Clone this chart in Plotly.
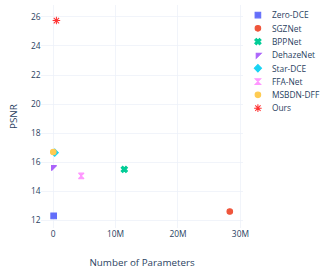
import plotly.graph_objects as go

names = ["Zero-DCE", "SGZNet", "BPPNet", "DehazeNet", "Star-DCE", "FFA-Net", "MSBDN-DFF", "Ours"]
params = [79000, 28300000, 11400000, 8000, 250000, 4500000, 20000, 520000]
psnr = [12.3, 12.6, 15.5, 15.65, 16.65, 15.05, 16.7, 25.75]
symbols = ["square", "circle", "x", "triangle-nw", "diamond", "hourglass", "circle", "asterisk-open"]
colors = ["#636efa", "#EF553B", "#00cc96", "#ab63fa", "#19d3f3", "#FF97FF", "#FECB52", "#FF3333"]
sizes = [8, 8, 8, 8, 8, 8, 8, 9]

S = 0.7  # page scale
W, H = 333 / S, 271 / S

fig = go.Figure()
for n, x, y, s, c, sz in zip(names, params, psnr, symbols, colors, sizes):
    fig.add_trace(go.Scatter(x=[x], y=[y], mode="markers", name=n,
                             marker=dict(symbol=s, color=c, size=sz,
                                         line=dict(color=c, width=1.5))))

fig.update_layout(
    template="plotly_white",
    width=W, height=H,
    margin=dict(l=59, r=W - 347, t=7, b=H - 326, autoexpand=False),
    xaxis=dict(title=dict(text="Number of Parameters", font=dict(size=14), standoff=27),
               tickfont=dict(size=12), range=[-1.9e6, 30.4e6], zeroline=False),
    yaxis=dict(title=dict(text="PSNR", font=dict(size=14), standoff=16), tickfont=dict(size=12),
               dtick=2, range=[11.45, 26.83], zeroline=False),
    legend=dict(font=dict(size=12), x=1.005, y=1, xanchor="left", yanchor="top"),
)
post = (
    "document.body.style.margin='0';"
    "document.body.style.overflow='hidden';"
    "var d=document.getElementById('{plot_id}');"
    "d.style.transformOrigin='0 0';"
    "d.style.transform='scale(%s)';" % S
)
fig.write_html("out.html", post_script=post, config={"displayModeBar": False})
